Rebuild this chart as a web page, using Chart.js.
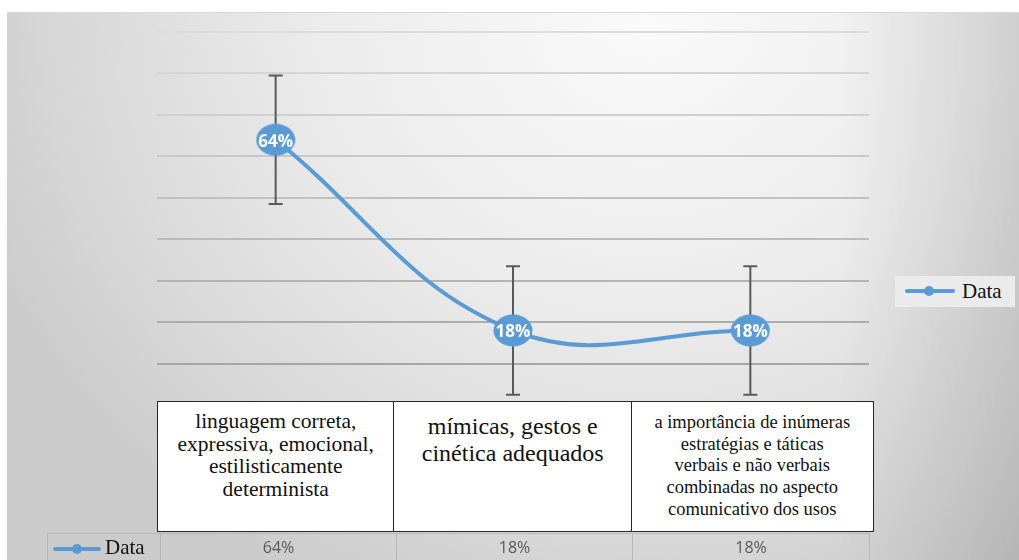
<!DOCTYPE html>
<html>
<head>
<meta charset="utf-8">
<script src="https://cdn.jsdelivr.net/npm/chart.js@4.4.1/dist/chart.umd.min.js"></script>
<style>
  body { margin: 0; width: 1019px; height: 560px; overflow: hidden; background: #fff; position: relative; }
  #bg {
    position: absolute; left: 7px; top: 12px; width: 1012px; height: 548px;
    border-top: 1px solid #d9d9d9;
    background:
      linear-gradient(to right, rgba(0,0,0,0) 82%, rgba(0,0,0,0.11) 100%),
      radial-gradient(ellipse 720px 650px at 640px 0px, #fafafa 0%, #ececec 45%, #d8d8d8 80%, #cbcbcb 100%);
  }
  #chart { position: absolute; left: 0; top: 0; }
  .serif { font-family: "Liberation Serif", Tinos, "Times New Roman", "DejaVu Serif", serif; }
  .cat {
    position: absolute; top: 401px; height: 131px; box-sizing: border-box;
    background: #fff; border: 1.5px solid #262626; color: #111; text-align: center;
  }
  .cell {
    position: absolute; top: 533px; height: 40px; box-sizing: border-box;
    border: 1px solid #b8b8b8; border-bottom: none;
    font-family: "Open Sans", "Liberation Sans", sans-serif; font-size: 16px; color: #595959;
    text-align: center; line-height: 27px;
  }
  .key { position: absolute; height: 4px; width: 48px; background: #5b9bd5; border-radius: 2px; }
  .key::after {
    content: ""; position: absolute; left: 19px; top: -3px; width: 10px; height: 10px;
    border-radius: 50%; background: #5b9bd5;
  }
  .keytxt { position: absolute; font-size: 21px; color: #111; }
  #legend { position: absolute; left: 895px; top: 276px; width: 120px; height: 31px; background: #ebebeb; }
</style>
</head>
<body>
<div id="bg"></div>
<canvas id="chart" width="1019" height="560"></canvas>
<div id="legend"></div>
<div id="table"></div>
<script>
const categories = [
  ['linguagem correta,', 'expressiva, emocional,', 'estilisticamente', 'determinista'],
  ['mímicas, gestos e', 'cinética adequados'],
  ['a importância de inúmeras', 'estratégias e táticas', 'verbais e não verbais', 'combinadas no aspecto', 'comunicativo dos usos']
];
const seriesName = 'Data';
const values = [64, 18, 18];
const errors = [15.5, 15.5, 15.5];
const yMin = 0;
const yMax = 90;
const yStep = 10;

const blue = '#5b9bd5';

// ellipse marker used as the point style
function makeMarker() {
  const c = document.createElement('canvas');
  c.width = 40; c.height = 33;
  const g = c.getContext('2d');
  g.fillStyle = blue;
  g.beginPath();
  g.ellipse(20, 16.5, 19.5, 16, 0, 0, Math.PI * 2);
  g.fill();
  return c;
}

const errorBars = {
  id: 'errorBars',
  beforeDatasetsDraw(chart) {
    const { ctx, scales: { y } } = chart;
    const meta = chart.getDatasetMeta(0);
    ctx.save();
    ctx.strokeStyle = '#595959';
    ctx.lineWidth = 2;
    meta.data.forEach((pt, i) => {
      const top = y.getPixelForValue(values[i] + errors[i]);
      const bot = y.getPixelForValue(values[i] - errors[i]);
      ctx.beginPath();
      ctx.moveTo(pt.x, top); ctx.lineTo(pt.x, bot);
      ctx.moveTo(pt.x - 7, top); ctx.lineTo(pt.x + 7, top);
      ctx.moveTo(pt.x - 7, bot); ctx.lineTo(pt.x + 7, bot);
      ctx.stroke();
    });
    ctx.restore();
  }
};

const pointLabels = {
  id: 'pointLabels',
  afterDatasetsDraw(chart) {
    const { ctx } = chart;
    const meta = chart.getDatasetMeta(0);
    ctx.save();
    ctx.fillStyle = '#fff';
    ctx.font = 'bold 17px "Open Sans", "Liberation Sans", sans-serif';
    ctx.textAlign = 'center';
    ctx.textBaseline = 'middle';
    meta.data.forEach((pt, i) => ctx.fillText(values[i] + '%', pt.x, pt.y + 2));
    ctx.restore();
  }
};

new Chart(document.getElementById('chart'), {
  type: 'line',
  data: {
    labels: categories.map(c => c.join(' ')),
    datasets: [{
      label: seriesName,
      data: values,
      borderColor: blue,
      borderWidth: 4,
      tension: 0.4,
      pointStyle: makeMarker(),
      pointRadius: 17
    }]
  },
  options: {
    responsive: false,
    animation: false,
    layout: { padding: { left: 157, right: 150, top: 32, bottom: 155 } },
    plugins: { legend: { display: false }, tooltip: { enabled: false } },
    scales: {
      x: { display: false, offset: true },
      y: {
        min: yMin, max: yMax,
        border: { display: false },
        ticks: { display: false, stepSize: yStep },
        grid: {
          drawTicks: false,
          lineWidth: 2,
          color: c => {
            const t = c.tick.value / yMax;
            const v = Math.round(160 + t * 60);
            return `rgb(${v},${v},${v})`;
          }
        },
        afterFit(s) { s.width = 0; }
      }
    }
  },
  plugins: [errorBars, pointLabels]
});

// category table and data row under the plot
const table = document.getElementById('table');
const colEdges = [157, 393, 631, 872];
const catStyles = [
  { size: 21.5, lh: 22.7, pad: 8 },
  { size: 24, lh: 27, pad: 11 },
  { size: 18.5, lh: 21.7, pad: 10 }
];
categories.forEach((lines, i) => {
  const d = document.createElement('div');
  d.className = 'cat serif';
  d.style.left = colEdges[i] + 'px';
  d.style.width = (colEdges[i + 1] - colEdges[i] + 1.5) + 'px';
  d.style.fontSize = catStyles[i].size + 'px';
  d.style.lineHeight = catStyles[i].lh + 'px';
  d.style.paddingTop = catStyles[i].pad + 'px';
  d.innerHTML = lines.join('<br>');
  table.appendChild(d);
});

const rowEdges = [47, 160, 396, 632, 869];
const head = document.createElement('div');
head.className = 'cell';
head.style.left = rowEdges[0] + 'px';
head.style.width = (rowEdges[1] - rowEdges[0] + 1) + 'px';
head.innerHTML = '<div class="key" style="left:5px;top:13px"></div><span class="keytxt serif" style="left:57px;top:0px;line-height:27px">' + seriesName + '</span>';
table.appendChild(head);
values.forEach((v, i) => {
  const d = document.createElement('div');
  d.className = 'cell';
  d.style.left = rowEdges[i + 1] + 'px';
  d.style.width = (rowEdges[i + 2] - rowEdges[i + 1] + 1) + 'px';
  d.textContent = v + '%';
  table.appendChild(d);
});

document.getElementById('legend').innerHTML =
  '<div class="key" style="left:10px;top:13px;width:50px"></div><span class="keytxt serif" style="left:67px;top:0;line-height:31px">' + seriesName + '</span>';
</script>
</body>
</html>
